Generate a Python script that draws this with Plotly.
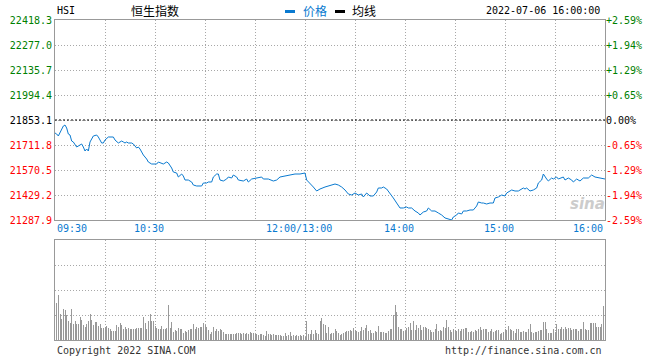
import plotly.graph_objects as go

# ---------------- data ----------------
prev_close = 21853.1
y_ticks = [21287.9, 21429.2, 21570.5, 21711.8, 21853.1, 21994.4, 22135.7, 22277.0, 22418.3]
pct_labels = ["-2.59%", "-1.94%", "-1.29%", "-0.65%", "0.00%", "+0.65%", "+1.29%", "+1.94%", "+2.59%"]
x_tick_times = ["09:30", "10:30", "12:00", "14:00", "15:00", "16:00"]
x_tick_labels = ["09:30", "10:30", "12:00/13:00", "14:00", "15:00", "16:00"]

times = ["09:30", "09:31", "09:32", "09:34", "09:35", "09:36", "09:37", "09:38", "09:39", "09:40",
         "09:41", "09:43", "09:44", "09:46", "09:47", "09:48", "09:49", "09:50", "09:51", "09:52",
         "09:53", "09:55", "09:56", "09:58", "09:59", "10:00", "10:02", "10:05", "10:06", "10:08",
         "10:10", "10:11", "10:12", "10:13", "10:14", "10:16", "10:17", "10:19", "10:20", "10:21",
         "10:23", "10:25", "10:26", "10:28", "10:31", "10:32", "10:34", "10:35", "10:37", "10:38",
         "10:40", "10:41", "10:43", "10:44", "10:46", "10:47", "10:48", "10:50", "10:52", "10:53",
         "10:55", "10:58", "10:59", "11:01", "11:02", "11:04", "11:05", "11:07", "11:08", "11:09",
         "11:11", "11:13", "11:14", "11:16", "11:17", "11:19", "11:20", "11:23", "11:25", "11:26",
         "11:28", "11:31", "11:34", "11:35", "11:38", "11:41", "11:43", "11:45", "11:48", "11:50",
         "11:52", "11:54", "11:57", "11:59", "12:00", "13:01", "13:03", "13:05", "13:07", "13:09",
         "13:12", "13:14", "13:16", "13:18", "13:20", "13:22", "13:24", "13:26", "13:28", "13:30",
         "13:32", "13:34", "13:35", "13:37", "13:39", "13:41", "13:43", "13:44", "13:46", "13:47",
         "13:49", "13:51", "13:53", "13:55", "13:57", "13:59", "14:01", "14:02", "14:04", "14:06",
         "14:08", "14:09", "14:11", "14:13", "14:14", "14:16", "14:18", "14:20", "14:22", "14:24",
         "14:26", "14:28", "14:29", "14:31", "14:32", "14:34", "14:35", "14:37", "14:39", "14:41",
         "14:43", "14:44", "14:46", "14:47", "14:49", "14:51", "14:53", "14:54", "14:56", "14:58",
         "15:00", "15:01", "15:04", "15:06", "15:08", "15:11", "15:12", "15:13", "15:15", "15:17",
         "15:19", "15:20", "15:22", "15:23", "15:25", "15:26", "15:28", "15:29", "15:31", "15:32",
         "15:35", "15:36", "15:38", "15:40", "15:41", "15:43", "15:45", "15:47", "15:50", "15:52",
         "15:54", "15:57", "16:00"]

prices = [21779.6, 21774.0, 21762.7, 21802.2, 21819.2, 21824.8, 21807.9, 21774.0, 21768.3, 21734.4,
          21728.8, 21700.5, 21706.1, 21717.5, 21700.5, 21677.9, 21689.2, 21677.9, 21728.8, 21745.7,
          21762.7, 21768.3, 21757.0, 21723.1, 21723.1, 21740.1, 21757.0, 21757.0, 21740.1, 21723.1,
          21734.4, 21728.8, 21723.1, 21728.8, 21723.1, 21723.1, 21717.5, 21694.8, 21700.5, 21689.2,
          21655.3, 21632.7, 21615.7, 21604.4, 21604.4, 21615.7, 21610.1, 21604.4, 21615.7, 21610.1,
          21581.8, 21559.2, 21553.5, 21530.9, 21547.9, 21536.6, 21514.0, 21514.0, 21502.7, 21485.7,
          21480.1, 21480.1, 21497.0, 21497.0, 21502.7, 21502.7, 21530.9, 21547.9, 21547.9, 21514.0,
          21508.3, 21519.6, 21530.9, 21525.3, 21542.2, 21530.9, 21514.0, 21508.3, 21519.6, 21502.7,
          21519.6, 21525.3, 21530.9, 21519.6, 21519.6, 21508.3, 21514.0, 21530.9, 21536.6, 21542.2,
          21542.2, 21547.9, 21547.9, 21553.5, 21553.5, 21514.0, 21497.0, 21474.4, 21451.8, 21463.1,
          21474.4, 21480.1, 21485.7, 21491.4, 21485.7, 21474.4, 21457.5, 21434.9, 21429.2, 21440.5,
          21429.2, 21434.9, 21417.9, 21440.5, 21423.6, 21423.6, 21446.2, 21468.8, 21468.8, 21474.4,
          21463.1, 21440.5, 21412.3, 21384.0, 21355.8, 21355.8, 21361.4, 21355.8, 21355.8, 21338.8,
          21327.5, 21316.2, 21333.0, 21338.8, 21355.8, 21338.8, 21338.8, 21327.5, 21316.2, 21299.3,
          21293.6, 21288.0, 21304.9, 21316.2, 21327.5, 21321.9, 21338.8, 21338.8, 21344.5, 21344.5,
          21367.1, 21389.7, 21384.0, 21384.0, 21378.4, 21384.0, 21384.0, 21412.3, 21417.9, 21429.2,
          21423.6, 21440.5, 21457.5, 21451.8, 21451.8, 21468.8, 21463.1, 21468.8, 21451.8, 21457.5,
          21468.8, 21497.0, 21514.0, 21547.9, 21519.6, 21508.3, 21525.3, 21519.6, 21530.9, 21519.6,
          21530.9, 21514.0, 21525.3, 21514.0, 21502.7, 21519.6, 21508.3, 21525.3, 21525.3, 21542.2,
          21530.9, 21525.3, 21519.6]

# per-minute volume (relative units), minutes 1..330 of the session
volumes = [37, 45, 26, 21, 31, 30, 25, 19, 17, 31, 16, 19, 16, 16, 23, 20, 15, 13, 16, 19,
           26, 20, 15, 18, 18, 14, 16, 12, 12, 13, 14, 12, 11, 9, 9, 9, 15, 13, 17, 15,
           11, 13, 11, 12, 11, 11, 11, 11, 12, 12, 12, 12, 23, 17, 11, 19, 26, 19, 19, 14,
           12, 11, 11, 14, 11, 11, 12, 35, 12, 18, 8, 10, 9, 12, 11, 11, 7, 9, 8, 10,
           11, 11, 16, 11, 13, 12, 13, 13, 17, 15, 13, 10, 6, 8, 13, 9, 11, 9, 11, 10,
           8, 6, 6, 6, 6, 6, 6, 6, 7, 7, 7, 6, 7, 6, 7, 6, 8, 7, 7, 6,
           6, 5, 6, 6, 5, 4, 9, 6, 6, 5, 6, 5, 5, 5, 5, 4, 4, 7, 4, 5,
           8, 4, 5, 4, 5, 4, 5, 4, 5, 3, 19, 6, 6, 10, 6, 10, 7, 6, 19, 22,
           16, 15, 7, 13, 6,
           7, 7, 11, 9, 7, 5, 6, 7, 8, 9, 9, 10, 9, 12, 10, 9, 8, 9, 13, 10,
           12, 15, 9, 10, 7, 7, 9, 8, 14, 8, 8, 8, 7, 7, 9, 11, 11, 25, 35, 28,
           13, 11, 11, 9, 9, 12, 13, 17, 10, 19, 10, 15, 12, 15, 10, 13, 13, 12, 11, 10,
           8, 8, 11, 16, 9, 10, 9, 13, 12, 20, 13, 10, 8, 11, 10, 9, 11, 9, 11, 11,
           12, 12, 8, 8, 9, 8, 10, 9, 11, 13, 10, 11, 11, 11, 8, 9, 11, 8, 9, 10,
           10, 6, 7, 8, 11, 10, 14, 11, 10, 9, 7, 11, 11, 8, 8, 9, 8, 8, 11, 16,
           8, 7, 8, 8, 9, 10, 10, 18, 18, 11, 7, 7, 7, 11, 8, 16, 11, 11, 13, 11,
           13, 11, 12, 12, 10, 11, 11, 11, 9, 11, 11, 18, 11, 10, 10, 17, 17, 17, 17, 13,
           13, 13, 16, 34, 32]

SESSION_MIN = 330


def session_minute(t):
    h, m = map(int, t.split(":"))
    total = h * 60 + m
    if total <= 12 * 60:
        return total - (9 * 60 + 30)
    return total - 13 * 60 + 150


price_x = [session_minute(t) for t in times]
vol_x = list(range(1, len(volumes) + 1))

GREEN, RED, BLACK, BLUE = "#008000", "#ff0000", "#000000", "#0a7ad0"


def colored(labels, values):
    out = []
    for lab, v in zip(labels, values):
        c = GREEN if v > prev_close + 1e-6 else (RED if v < prev_close - 1e-6 else BLACK)
        out.append('<span style="color:%s">%s</span>' % (c, lab))
    return out


left_text = colored(["%.1f" % v for v in y_ticks], y_ticks)
right_text = colored(pct_labels, y_ticks)

MONO = "DejaVu Sans Mono"
GRID = "#a8a8a8"
FRAME = "#999999"
GDASH = "1px,2px"

fig = go.Figure()
fig.add_trace(go.Scatter(x=price_x, y=prices, mode="lines",
                         line=dict(color=BLUE, width=1), xaxis="x", yaxis="y",
                         hoverinfo="skip"))
fig.add_trace(go.Scatter(x=[0, SESSION_MIN], y=[prev_close, prev_close], mode="lines",
                         line=dict(color="#000000", width=1, dash="2px,2px"),
                         xaxis="x", yaxis="y3", hoverinfo="skip"))
fig.add_trace(go.Bar(x=vol_x, y=volumes, width=0.6,
                     marker=dict(color="#999999", line=dict(width=0)),
                     xaxis="x2", yaxis="y2", hoverinfo="skip"))

grid_vals = list(range(0, SESSION_MIN + 1, 30))
common_x = dict(range=[0, SESSION_MIN], tickvals=grid_vals, showticklabels=False,
                showgrid=True, gridcolor=GRID, griddash=GDASH, gridwidth=1,
                showline=True, mirror=True, linecolor=FRAME, linewidth=1,
                zeroline=False, ticks="")

ymin, ymax = y_ticks[0], y_ticks[-1]
fig.update_layout(
    width=660, height=360,
    margin=dict(l=55, r=55, t=20, b=20, autoexpand=False),
    paper_bgcolor="white", plot_bgcolor="white",
    showlegend=False, bargap=0,
    xaxis=dict(domain=[0, 1], anchor="y", **common_x),
    xaxis2=dict(domain=[0, 1], anchor="y2", **common_x),
    yaxis=dict(domain=[0.375, 1], range=[ymin, ymax], tickvals=y_ticks, ticktext=left_text,
               showgrid=True, gridcolor=GRID, griddash=GDASH, showline=True, mirror=True,
               linecolor=FRAME, linewidth=1, zeroline=False, ticks="",
               tickfont=dict(family=MONO, size=10), automargin=False),
    yaxis3=dict(overlaying="y", side="right", anchor="x", range=[ymin, ymax],
                tickvals=y_ticks, ticktext=right_text, showgrid=False, showline=False,
                zeroline=False, ticks="", tickfont=dict(family=MONO, size=10),
                automargin=False),
    yaxis2=dict(domain=[0, 0.3125], range=[0, 100], tickvals=[0, 25, 50, 75, 100],
                showticklabels=False, showgrid=True, gridcolor=GRID, griddash=GDASH,
                showline=True, mirror=True, linecolor=FRAME, linewidth=1,
                zeroline=False, ticks=""),
)

# x-axis time labels
ann = []
for t, lab in zip(x_tick_times, x_tick_labels):
    xm = session_minute(t)
    if xm == 0:
        xa, xs = "left", 0
    elif xm == SESSION_MIN:
        xa, xs = "right", 0
    else:
        xa, xs = "center", -6
    ann.append(dict(x=xm, y=0.375, xref="x", yref="paper", text=lab, showarrow=False,
                    xanchor=xa, yanchor="top", xshift=xs, yshift=-1,
                    font=dict(family=MONO, size=10, color=BLUE)))


def px_x(x):
    return (x - 55) / 550.0


def px_y(y):
    return (340 - y) / 320.0


hdr = [
    ("HSI", 55, "left", MONO, 10, "#000000"),
    ("恒生指数", 154.5, "center", "Noto Sans CJK SC", 12, "#000000"),
    ("价格", 301, "left", "Noto Sans CJK SC", 12, BLUE),
    ("均线", 350, "left", "Noto Sans CJK SC", 12, "#000000"),
    ("2022-07-06 16:00:00", 602, "right", MONO, 10, "#000000"),
]
for text, x, xa, fam, size, col in hdr:
    ann.append(dict(x=px_x(x), y=px_y(10), xref="paper", yref="paper", text=text,
                    showarrow=False, xanchor=xa, yanchor="middle",
                    font=dict(family=fam, size=size, color=col)))

ann.append(dict(x=px_x(55), y=px_y(350), xref="paper", yref="paper",
                text="Copyright 2022 SINA.COM", showarrow=False, xanchor="left",
                yanchor="middle", font=dict(family=MONO, size=10, color="#333333")))
ann.append(dict(x=px_x(604), y=px_y(350), xref="paper", yref="paper",
                text="http://finance.sina.com.cn", showarrow=False, xanchor="right",
                yanchor="middle", font=dict(family=MONO, size=10, color="#333333")))
ann.append(dict(x=px_x(587), y=px_y(204), xref="paper", yref="paper",
                text="<b><i>sina</i></b>", showarrow=False, xanchor="center",
                yanchor="middle", font=dict(family="DejaVu Sans", size=15, color="#cccccc")))

shapes = [
    dict(type="rect", xref="paper", yref="paper", x0=px_x(285), x1=px_x(295),
         y0=px_y(13), y1=px_y(10), fillcolor=BLUE, line=dict(width=0)),
    dict(type="rect", xref="paper", yref="paper", x0=px_x(335), x1=px_x(345),
         y0=px_y(13), y1=px_y(10), fillcolor="#000000", line=dict(width=0)),
]

fig.update_layout(annotations=ann, shapes=shapes)
fig.write_html("out.html",
               config={"displayModeBar": False, "staticPlot": True},
               post_script="document.body.style.margin='0';document.body.style.padding='0';")
